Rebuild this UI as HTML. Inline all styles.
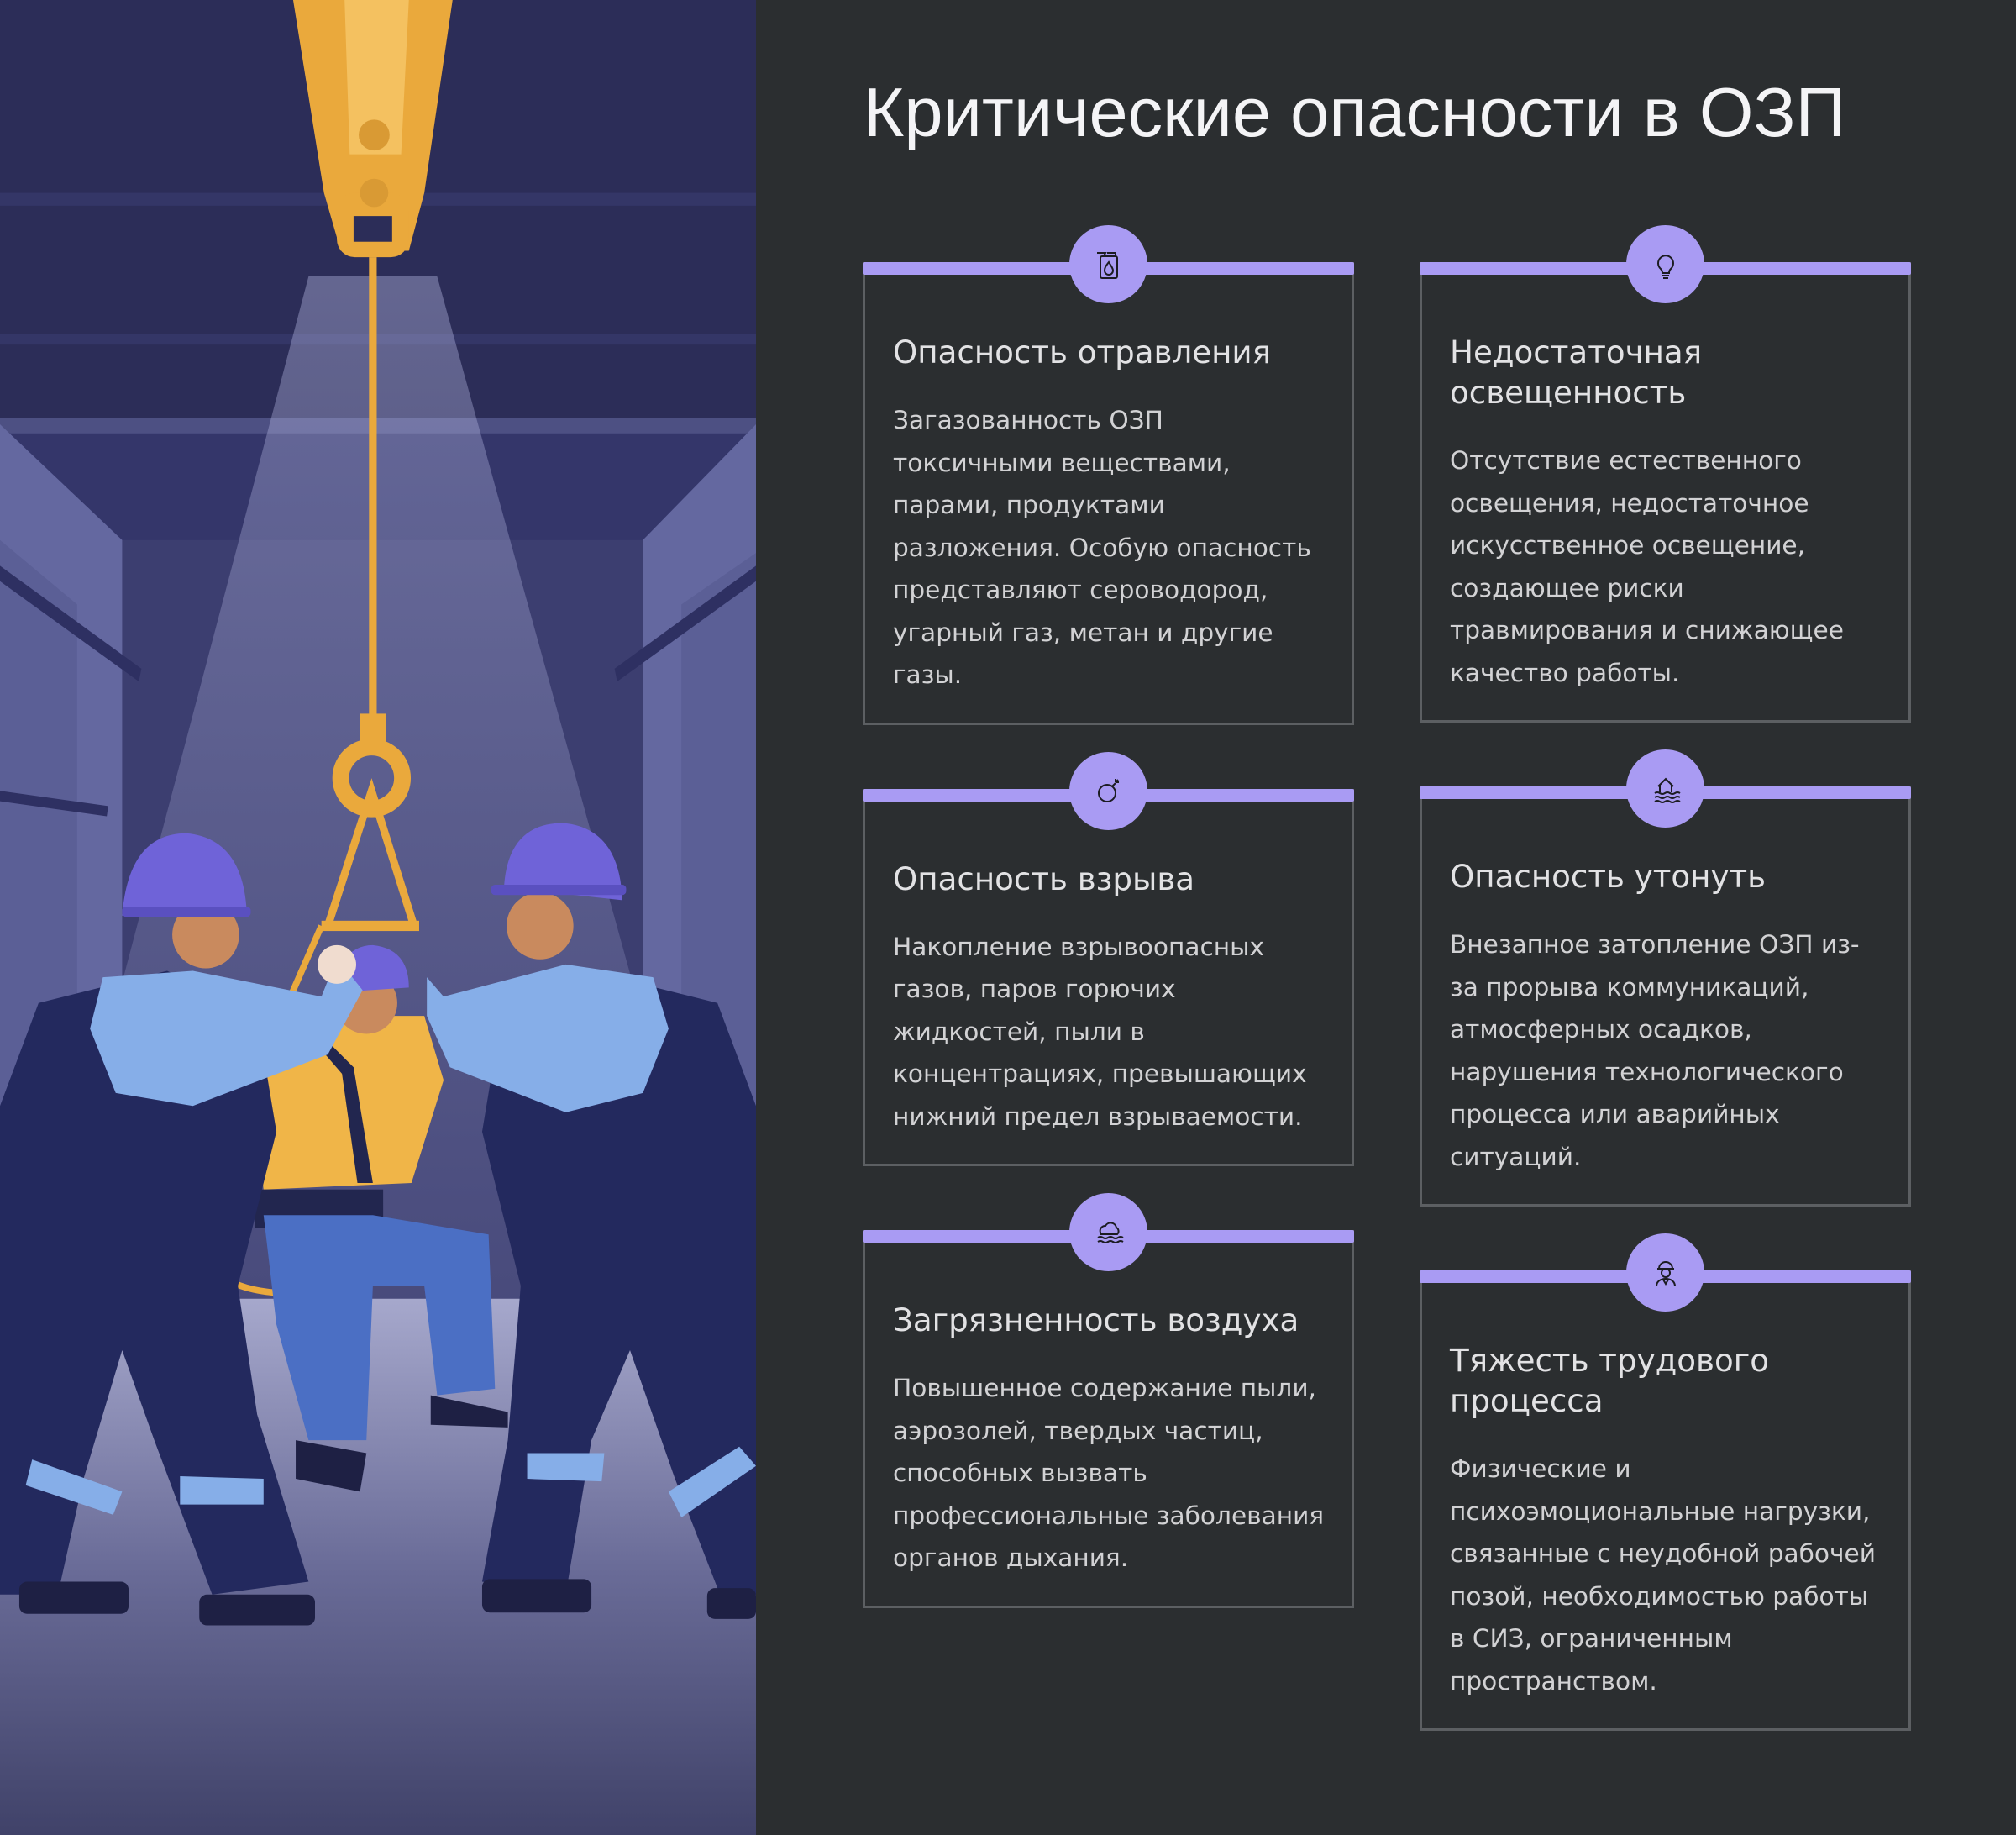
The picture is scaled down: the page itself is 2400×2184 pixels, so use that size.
<!DOCTYPE html>
<html><head><meta charset="utf-8"><style>
*{margin:0;padding:0;box-sizing:border-box}
body{width:2400px;height:2184px;background:#2b2e30;position:relative;overflow:hidden;font-family:"DejaVu Sans","Liberation Sans",sans-serif}
#art{position:absolute;left:0;top:0;width:900px;height:2184px}
h1{position:absolute;left:1028px;top:84px;font-family:"Liberation Sans",sans-serif;font-weight:400;font-size:83px;color:#f4f4f6;white-space:nowrap;line-height:100px}
.col{position:absolute;top:312px;width:585px;display:flex;flex-direction:column;gap:76px}
.card{position:relative;border:3px solid #5c5f62;border-top:none;padding:83px 30px 31px 33px}
.card:before{content:"";position:absolute;left:-3px;right:-3px;top:0;height:15px;background:#a99bf3;border-radius:2px}
.ic{position:absolute;left:50%;top:-44px;width:93px;height:93px;margin-left:-46.5px;border-radius:50%;background:#a99bf3;display:flex;align-items:center;justify-content:center}
.t{font-size:37.2px;line-height:48px;color:#e2e2e4;white-space:nowrap;margin-bottom:32px}
.b{font-size:29.6px;line-height:50.5px;color:#d2d2d4;white-space:nowrap}
</style></head><body>
<svg id="art" viewBox="0 0 588 1427" preserveAspectRatio="none">
<defs>
<linearGradient id="fl" x1="0" y1="0" x2="0" y2="1"><stop offset="0" stop-color="#a6a8cc"/><stop offset="0.5" stop-color="#6a6c98"/><stop offset="1" stop-color="#404269"/></linearGradient>
<linearGradient id="lc" x1="0" y1="0" x2="0" y2="1"><stop offset="0" stop-color="#b9bce6" stop-opacity="0.4"/><stop offset="1" stop-color="#b9bce6" stop-opacity="0.1"/></linearGradient>
</defs>
<rect width="588" height="1427" fill="#34366a"/>
<rect width="588" height="330" fill="#2c2d58"/>
<rect y="150" width="588" height="10" fill="#343667"/>
<rect y="260" width="588" height="8" fill="#343667"/>
<rect y="325" width="588" height="12" fill="#4d5083"/>
<rect x="95" y="420" width="405" height="600" fill="#3c3e70"/>
<polygon points="0,330 95,420 95,1020 0,1060" fill="#6468a0"/>
<polygon points="0,420 60,470 60,960 0,990" fill="#5b5f96"/>
<polygon points="588,330 500,420 500,1020 588,1060" fill="#6468a0"/>
<polygon points="588,430 530,470 530,960 588,990" fill="#5b5f96"/>
<polygon points="0,440 110,520 108,530 0,452" fill="#2e3062"/>
<polygon points="588,440 478,520 480,530 588,452" fill="#2e3062"/>
<rect x="0" y="615" width="85" height="8" fill="#2e3062" transform="rotate(8 0 615)"/>
<polygon points="0,1060 95,1010 500,1010 588,1060 588,1427 0,1427" fill="url(#fl)"/>
<polygon points="240,215 340,215 560,1010 30,1010" fill="url(#lc)"/>
<polygon points="228,0 352,0 330,150 318,195 265,195 252,150" fill="#eaa93c"/>
<polygon points="268,0 318,0 312,120 272,120" fill="#f4c160"/>
<rect x="262" y="150" width="56" height="50" rx="14" fill="#eaa93c"/>
<rect x="275" y="168" width="30" height="20" fill="#2c2d58"/>
<circle cx="291" cy="105" r="12" fill="#d99a34"/><circle cx="291" cy="150" r="11" fill="#d99a34"/>
<rect x="287" y="200" width="6" height="360" fill="#eaa93c"/>
<rect x="280" y="555" width="20" height="30" fill="#eaa93c"/>
<circle cx="289" cy="605" r="24" fill="none" stroke="#eaa93c" stroke-width="13"/>
<polyline points="255,720 289,615 322,720" fill="none" stroke="#eaa93c" stroke-width="6"/>
<rect x="250" y="716" width="76" height="8" fill="#eaa93c"/>
<path d="M250,720 L215,800 Q150,900 160,980 Q180,1010 245,1005" fill="none" stroke="#eaa93c" stroke-width="5"/>
<polygon points="210,790 330,790 345,840 320,920 205,925 195,840" fill="#f0b548"/>
<polygon points="245,800 275,830 290,920 278,920 266,835 240,805" fill="#22264f"/>
<rect x="198" y="925" width="100" height="30" fill="#22264f"/>
<polygon points="205,945 290,945 380,960 385,1080 340,1085 330,1000 290,1000 285,1120 240,1120 215,1030" fill="#4b6fc4"/>
<polygon points="230,1120 285,1130 280,1160 230,1150" fill="#1e2044"/>
<polygon points="335,1085 395,1098 395,1110 335,1108" fill="#1e2044"/>
<circle cx="285" cy="780" r="24" fill="#c98a5e"/>
<path d="M258,772 Q265,735 290,735 Q318,738 318,768 Z" fill="#6f63d8"/>
<polygon points="30,780 130,755 200,790 215,880 185,1000 200,1100 240,1230 165,1240 120,1120 95,1050 65,1150 45,1240 0,1240 0,860" fill="#23295e"/>
<polygon points="80,760 150,755 250,775 262,745 282,770 255,820 150,860 90,850 70,800" fill="#86aee8"/>
<polygon points="25,1135 95,1160 88,1178 20,1155" fill="#86aee8"/>
<polygon points="140,1148 205,1150 205,1170 140,1170" fill="#86aee8"/>
<rect x="15" y="1230" width="85" height="25" rx="6" fill="#1e2044"/>
<rect x="155" y="1240" width="90" height="24" rx="6" fill="#1e2044"/>
<circle cx="160" cy="727" r="26" fill="#c98a5e"/>
<path d="M95,712 Q100,648 145,648 Q190,652 192,712 Z" fill="#6f63d8"/>
<rect x="95" y="705" width="100" height="8" rx="3" fill="#5a50c0"/>
<circle cx="262" cy="750" r="15" fill="#f0dccf"/>
<polygon points="558,780 458,755 390,790 375,880 405,1000 395,1120 375,1230 440,1240 460,1120 490,1050 525,1150 560,1240 588,1240 588,860" fill="#23295e"/>
<polygon points="508,760 440,750 345,775 332,760 332,790 350,830 440,865 500,850 520,800" fill="#86aee8"/>
<polygon points="410,1130 470,1130 468,1152 410,1150" fill="#86aee8"/>
<polygon points="520,1160 575,1125 588,1140 530,1180" fill="#86aee8"/>
<rect x="375" y="1228" width="85" height="26" rx="6" fill="#1e2044"/>
<rect x="550" y="1235" width="38" height="24" rx="6" fill="#1e2044"/>
<circle cx="420" cy="720" r="26" fill="#c98a5e"/>
<path d="M392,690 Q395,640 438,640 Q482,644 484,700 Z" fill="#6f63d8"/>
<rect x="382" y="688" width="105" height="8" rx="3" fill="#5a50c0"/>
</svg>

<h1>Критические опасности в ОЗП</h1>

<div class="col" style="left:1027px">
 <div class="card">
  <div class="ic"><svg width="40" height="40" viewBox="0 0 40 40" fill="none" stroke="#1c1c22" stroke-width="2"><rect x="10" y="10" width="20" height="26" rx="2"/><path d="M6 6h10l-2 4M18 6h10v4"/><path d="M20 17c-4 5-5 7-5 10a5 5 0 0010 0c0-3-2-5-5-10z"/></svg></div>
  <div class="t">Опасность отравления</div>
  <div class="b">Загазованность ОЗП<br>токсичными веществами,<br>парами, продуктами<br>разложения. Особую опасность<br>представляют сероводород,<br>угарный газ, метан и другие<br>газы.</div>
 </div>
 <div class="card">
  <div class="ic"><svg width="40" height="40" viewBox="0 0 40 40" fill="none" stroke="#1c1c22" stroke-width="2"><circle cx="18" cy="23" r="10"/><path d="M24 15l4-4M28 6v4M32 10h-4M31 7l-3 3"/></svg></div>
  <div class="t">Опасность взрыва</div>
  <div class="b">Накопление взрывоопасных<br>газов, паров горючих<br>жидкостей, пыли в<br>концентрациях, превышающих<br>нижний предел взрываемости.</div>
 </div>
 <div class="card">
  <div class="ic"><svg width="40" height="40" viewBox="0 0 40 40" fill="none" stroke="#1c1c22" stroke-width="2"><path d="M10 20a6 6 0 016-8 7 7 0 0113 2 5 5 0 011 8H10z"/><path d="M7 26q3-2 6 0t6 0 6 0 6 0 6 0M7 31q3-2 6 0t6 0 6 0 6 0 6 0"/></svg></div>
  <div class="t">Загрязненность воздуха</div>
  <div class="b">Повышенное содержание пыли,<br>аэрозолей, твердых частиц,<br>способных вызвать<br>профессиональные заболевания<br>органов дыхания.</div>
 </div>
</div>

<div class="col" style="left:1690px">
 <div class="card">
  <div class="ic"><svg width="40" height="40" viewBox="0 0 40 40" fill="none" stroke="#1c1c22" stroke-width="2"><path d="M14 25a9 9 0 1112 0c-1 1-2 3-2 5h-8c0-2-1-4-2-5z"/><path d="M16 33h8M17 36h6"/></svg></div>
  <div class="t">Недостаточная<br>освещенность</div>
  <div class="b">Отсутствие естественного<br>освещения, недостаточное<br>искусственное освещение,<br>создающее риски<br>травмирования и снижающее<br>качество работы.</div>
 </div>
 <div class="card">
  <div class="ic"><svg width="40" height="40" viewBox="0 0 40 40" fill="none" stroke="#1c1c22" stroke-width="2"><path d="M13 24V15l7-7 7 7v9M11 17l9-9 9 9"/><path d="M7 25q3-2 6 0t6 0 6 0 6 0 6 0M7 30q3-2 6 0t6 0 6 0 6 0 6 0M7 35q3-2 6 0t6 0 6 0 6 0 6 0"/></svg></div>
  <div class="t">Опасность утонуть</div>
  <div class="b">Внезапное затопление ОЗП из-<br>за прорыва коммуникаций,<br>атмосферных осадков,<br>нарушения технологического<br>процесса или аварийных<br>ситуаций.</div>
 </div>
 <div class="card">
  <div class="ic"><svg width="40" height="40" viewBox="0 0 40 40" fill="none" stroke="#1c1c22" stroke-width="2"><path d="M12 15a8 8 0 0116 0zM10 15h20"/><circle cx="20" cy="20" r="5"/><path d="M9 36c0-6 5-9 11-9s11 3 11 9M17 28l3 5 3-5"/></svg></div>
  <div class="t">Тяжесть трудового<br>процесса</div>
  <div class="b">Физические и<br>психоэмоциональные нагрузки,<br>связанные с неудобной рабочей<br>позой, необходимостью работы<br>в СИЗ, ограниченным<br>пространством.</div>
 </div>
</div>
</body></html>
